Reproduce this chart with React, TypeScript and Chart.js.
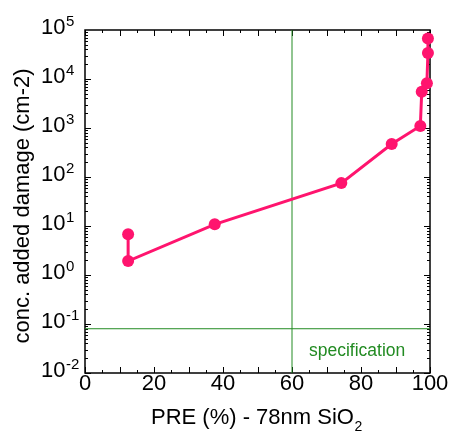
import React, { useEffect, useRef } from "react";
import { Chart, registerables } from "chart.js";

Chart.register(...registerables);

// ---- data ----
const preValues: number[] = [12.5, 12.5, 37.6, 74.3, 88.9, 97.2, 97.6, 99.1, 99.4, 99.4];
const damageValues: number[] = [6.8, 1.93, 10.8, 75, 470, 1100, 5500, 8200, 34000, 67000];
const specPre: number = 60;
const specDamage: number = 0.08;
const xTickLabels: number[] = [0, 20, 40, 60, 80, 100];
const yTickExponents: number[] = [-2, -1, 0, 1, 2, 3, 4, 5];
const xTitle = "PRE (%) - 78nm SiO";
const xTitleSub = "2";
const yTitle = "conc. added damage (cm-2)";
const specLabel = "specification";

const PINK = "rgb(255,20,110)";
const GREEN = "rgb(34,139,34)";
const FONT = "'Liberation Sans', Arial, sans-serif";

const decorPlugin = {
  id: "decor",
  beforeDatasetsDraw(chart: any) {
    const ctx = chart.ctx as CanvasRenderingContext2D;
    const xs = chart.scales.x;
    const ys = chart.scales.y;
    const { left, right, top, bottom } = chart.chartArea;
    ctx.save();
    ctx.strokeStyle = "#000";
    ctx.lineWidth = 1.5;
    ctx.strokeRect(left, top, right - left, bottom - top);

    // x ticks (bottom + top), every 5 / 10
    ctx.lineWidth = 1;
    ctx.beginPath();
    for (let v = xs.min; v <= xs.max + 1e-9; v += 5) {
      const px = Math.round(xs.getPixelForValue(v)) + 0.5;
      const len = v % 10 === 0 ? 6 : 3;
      ctx.moveTo(px, bottom);
      ctx.lineTo(px, bottom - len);
      ctx.moveTo(px, top);
      ctx.lineTo(px, top + len);
    }
    // y ticks (log)
    for (let e = yTickExponents[0]; e < yTickExponents[yTickExponents.length - 1]; e++) {
      for (let m = 1; m <= 9; m++) {
        const v = m * Math.pow(10, e);
        const py = Math.round(ys.getPixelForValue(v)) + 0.5;
        const len = m === 1 ? 6 : 3;
        ctx.moveTo(left, py);
        ctx.lineTo(left + len, py);
        ctx.moveTo(right, py);
        ctx.lineTo(right - len, py);
      }
    }
    ctx.stroke();

    // x tick labels
    ctx.fillStyle = "#000";
    ctx.font = `22px ${FONT}`;
    ctx.textAlign = "center";
    ctx.textBaseline = "alphabetic";
    for (const t of xTickLabels) {
      ctx.fillText(String(t), xs.getPixelForValue(t), 390);
    }
    // y tick labels 10^n
    ctx.textAlign = "left";
    for (const e of yTickExponents) {
      const py = ys.getPixelForValue(Math.pow(10, e));
      ctx.font = `22px ${FONT}`;
      const base = "10";
      const w = ctx.measureText(base).width;
      const x0 = 41;
      ctx.fillText(base, x0, py + 3.5);
      ctx.font = `15px ${FONT}`;
      ctx.fillText(e < 0 ? "-" + Math.abs(e) : String(e), x0 + w + 0.5, py - 4.5);
    }

    // x title
    ctx.font = `22px ${FONT}`;
    ctx.fillText(xTitle, 151, 424);
    const tw = ctx.measureText(xTitle).width;
    ctx.font = `14px ${FONT}`;
    ctx.fillText(xTitleSub, 151 + tw + 0.5, 431);

    // y title
    ctx.save();
    ctx.translate(28.5, 206);
    ctx.rotate(-Math.PI / 2);
    ctx.font = `22px ${FONT}`;
    ctx.textAlign = "center";
    ctx.fillText(yTitle, 0, 0);
    ctx.restore();

    // spec label
    ctx.fillStyle = GREEN;
    ctx.font = `17.5px ${FONT}`;
    ctx.textAlign = "left";
    ctx.fillText(specLabel, 309, 356);
    ctx.restore();
  },
};

export default function App() {
  const ref = useRef<HTMLCanvasElement | null>(null);
  useEffect(() => {
    document.body.style.margin = "0";
    if (!ref.current) return;
    const chart = new Chart(ref.current, {
      type: "line",
      data: {
        datasets: [
          {
            label: "damage",
            data: preValues.map((x, i) => ({ x, y: damageValues[i] })),
            borderColor: PINK,
            backgroundColor: PINK,
            borderWidth: 3,
            pointRadius: 6,
            pointHoverRadius: 6,
            pointBorderWidth: 0,
            tension: 0,
            clip: false,
          },
          {
            label: "specX",
            data: [
              { x: specPre, y: 0.01 },
              { x: specPre, y: 1e5 },
            ],
            borderColor: GREEN,
            borderWidth: 1,
            pointRadius: 0,
          },
          {
            label: "specY",
            data: [
              { x: 0, y: specDamage },
              { x: 100, y: specDamage },
            ],
            borderColor: GREEN,
            borderWidth: 1,
            pointRadius: 0,
          },
        ],
      },
      options: {
        animation: false,
        responsive: false,
        maintainAspectRatio: false,
        layout: { padding: { left: 85, right: 19, top: 30, bottom: 59 } },
        plugins: { legend: { display: false }, tooltip: { enabled: false } },
        scales: {
          x: { type: "linear", min: 0, max: 100, display: false },
          y: { type: "logarithmic", min: 0.01, max: 1e5, display: false },
        },
      },
      plugins: [decorPlugin],
    });
    return () => chart.destroy();
  }, []);
  return (
    <canvas ref={ref} width={449} height={432} style={{ display: "block", width: 449, height: 432 }} />
  );
}
